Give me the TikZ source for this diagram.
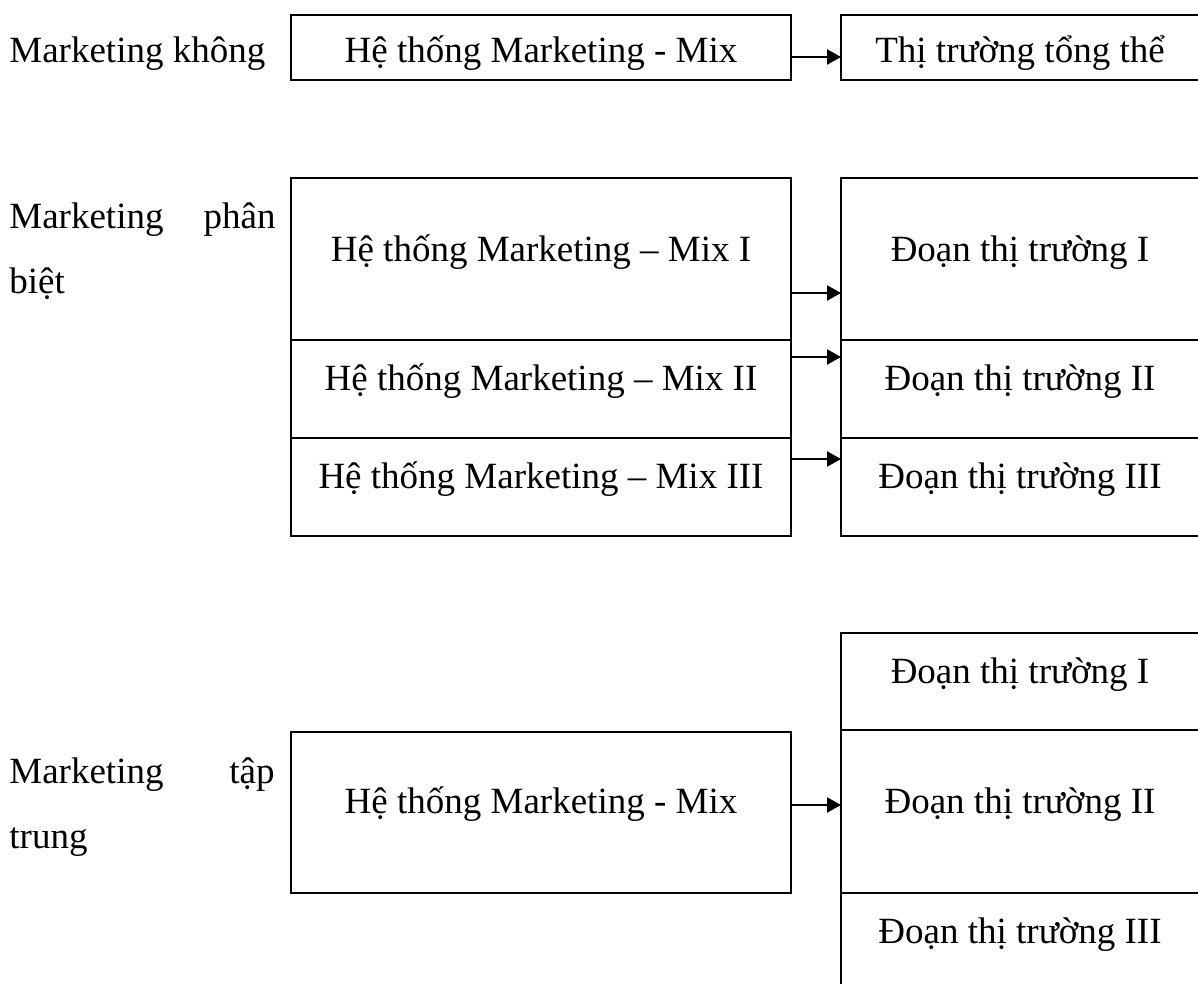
\documentclass[tikz,border=0pt]{standalone}
\usepackage{fontspec}
\setmainfont{Liberation Serif}
\usetikzlibrary{arrows.meta,calc}
% box: north-west corner, width, height (all in 0.5pt units)
\newcommand\mkbox[5]{\node[box, minimum width=#4*0.5pt, minimum height=#5*0.5pt] (#1) at (#2,#3) {};}
\begin{document}
\begin{tikzpicture}[x=0.5pt,y=-0.5pt,
  box/.style={draw, line width=1.4pt, rectangle, inner sep=0pt, outer sep=0pt, anchor=north west},
  txt/.style={inner sep=0pt, anchor=base, font=\fontsize{18.5pt}{22pt}\selectfont},
  lbl/.style={txt, anchor=base west},
  lblr/.style={txt, anchor=base east},
  arr/.style={line width=1.25pt, -{Triangle[length=7pt,width=7.5pt]}}]
\useasboundingbox (0,0) rectangle (1198,984);
\clip (0,0) rectangle (1198,984);

% ---- Marketing không phân biệt
\node[lbl] (l1) at (9,63) {Marketing không};
\mkbox{m1}{291}{15}{500}{65}
\mkbox{t1}{841}{15}{362}{65}
\node[txt] (m1t) at (541,63) {Hệ thống Marketing - Mix};
\node[txt] (t1t) at (1020,63) {Thị trường tổng thể};
\coordinate (a1) at ($(m1.north east)+(0,42)$);
\draw[arr] (a1) -- (t1.west |- a1);

% ---- Marketing phân biệt
\node[lbl] (l2a) at (9,228) {Marketing};
\node[lblr] (l2b) at (276,228) {phân};
\node[lbl] (l2c) at (9,293) {biệt};
\mkbox{mA}{291}{178}{500}{162}
\mkbox{mB}{291}{340}{500}{98}
\mkbox{mC}{291}{438}{500}{98}
\mkbox{dA}{841}{178}{362}{162}
\mkbox{dB}{841}{340}{362}{98}
\mkbox{dC}{841}{438}{362}{98}
\node[txt] (mAt) at (541,261) {Hệ thống Marketing – Mix I};
\node[txt] (mBt) at (541,390) {Hệ thống Marketing – Mix II};
\node[txt] (mCt) at (541,488) {Hệ thống Marketing – Mix III};
\node[txt] (dAt) at (1020,261) {Đoạn thị trường I};
\node[txt] (dBt) at (1020,390) {Đoạn thị trường II};
\node[txt] (dCt) at (1020,488) {Đoạn thị trường III};
\coordinate (a2) at ($(mA.north east)+(0,115)$);
\coordinate (a3) at ($(mB.north east)+(0,17)$);
\coordinate (a4) at ($(mC.north east)+(0,21)$);
\draw[arr] (a2) -- (dA.west |- a2);
\draw[arr] (a3) -- (dB.west |- a3);
\draw[arr] (a4) -- (dC.west |- a4);

% ---- Marketing tập trung
\node[lbl] (l3a) at (9,783) {Marketing};
\node[lblr] (l3b) at (275,783) {tập};
\node[lbl] (l3c) at (9,848) {trung};
\mkbox{m3}{291}{732}{500}{161}
\mkbox{eA}{841}{633}{362}{97}
\mkbox{eB}{841}{730}{362}{163}
\mkbox{eC}{841}{893}{362}{100}
\node[txt] (m3t) at (541,813) {Hệ thống Marketing - Mix};
\node[txt] (eAt) at (1020,683) {Đoạn thị trường I};
\node[txt] (eBt) at (1020,813) {Đoạn thị trường II};
\node[txt] (eCt) at (1020,943) {Đoạn thị trường III};
\coordinate (a5) at ($(m3.north east)+(0,73)$);
\draw[arr] (a5) -- (eB.west |- a5);
\end{tikzpicture}
\end{document}
